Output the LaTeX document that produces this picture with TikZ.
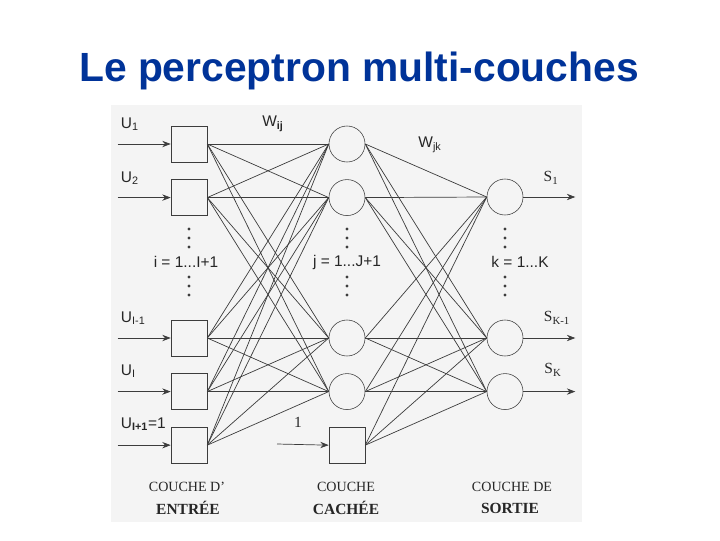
\documentclass[tikz,border=0pt]{standalone}
\usepackage{fontspec}
\setmainfont{Liberation Serif}
\setsansfont{Liberation Sans}
\usepackage{xcolor}
\usetikzlibrary{arrows.meta, positioning, calc}
\definecolor{titleblue}{RGB}{0,51,153}
\definecolor{panelgray}{RGB}{244,244,244}
\definecolor{linegray}{RGB}{60,60,60}

\begin{document}
\begin{tikzpicture}[x=0.025cm, y=-0.025cm, >={Stealth[length=6pt,width=4.5pt]}, every node/.style={font=\sffamily\fontsize{11}{13}\selectfont, text=black!85},
    unitbox/.style={rectangle, draw=linegray, fill=panelgray, minimum width=0.9cm, minimum height=0.9cm, inner sep=0pt},
    neuron/.style={circle, draw=linegray, fill=panelgray, minimum size=0.9cm, inner sep=0pt},
    link/.style={draw=linegray, line width=0.5pt},
    layername/.style={font=\rmfamily\fontsize{10}{12}\selectfont},
    layerbold/.style={font=\rmfamily\bfseries\fontsize{11}{13}\selectfont}]
    \useasboundingbox (0,0) rectangle (720,540);
    \fill[white] (0,0) rectangle (720,540);
    \fill[panelgray] (111,105) rectangle (582,522);

    % Title
    \node (title) at (359,71) [font=\sffamily\bfseries\fontsize{29}{34}\selectfont, text=titleblue] {Le perceptron multi-couches};

    % Input layer
    \node (in1) [unitbox] at (189,144) {};
    \node (in2) [unitbox, below=0.425cm of in1] {};
    \node (in3) [unitbox] at (189,338) {};
    \node (in4) [unitbox, below=0.425cm of in3] {};
    \node (in5) [unitbox, below=0.425cm of in4] {};

    % Hidden layer
    \node (hid1) [neuron] at (347,144) {};
    \node (hid2) [neuron, below=0.425cm of hid1] {};
    \node (hid3) [neuron] at (347,338) {};
    \node (hid4) [neuron, below=0.425cm of hid3] {};
    \node (hidb) [unitbox, below=0.425cm of hid4] {};

    % Output layer
    \node (out1) [neuron] at (505,197) {};
    \node (out2) [neuron] at (505,338) {};
    \node (out3) [neuron, below=0.425cm of out2] {};

    % Weights
    \foreach \i in {in1,in2,in3,in4,in5}
        \foreach \h in {hid1,hid2,hid3,hid4}
            \draw [link] (\i.east) -- (\h.west);
    \foreach \h in {hid1,hid2,hid3,hid4,hidb}
        \foreach \o in {out1,out2,out3}
            \draw [link] (\h.east) -- (\o.west);

    % Inputs and outputs
    \foreach \i in {1,...,5}
        \coordinate (u\i) at ($(in\i.west)+(-53,0)$);
    \coordinate (ub) at (277,444);
    \foreach \o in {1,2,3}
        \coordinate (s\o) at ($(out\o.east)+(52,0)$);
    \foreach \i in {1,...,5}
        \draw [link, ->] (u\i) -- (in\i.west);
    \draw [link, ->] (ub) -- (hidb.west);
    \foreach \o in {1,2,3}
        \draw [link, ->] (out\o.east) -- (s\o);

    % Dots
    \foreach \x in {189,347,505}
        \foreach \y in {229,238,247,277,286,295}
            \fill [linegray] (\x,\y) circle (1.1pt);

    % Labels
    \node (lu1) [anchor=west] at (116,124) {U\textsubscript{1}};
    \node (lu2) [anchor=west] at (116,178) {U\textsubscript{2}};
    \node (lu3) [anchor=west] at (116,318) {U\textsubscript{I-1}};
    \node (lu4) [anchor=west] at (116,371) {U\textsubscript{I}};
    \node (lu5) [anchor=west] at (116,424) {U\textsubscript{\textbf{I+1}}=1};
    \node (lb) [font=\rmfamily\fontsize{11}{13}\selectfont] at (298,422) {1};
    \node (wij) at (273,124) {W\textsubscript{\textbf{ij}}};
    \node (wjk) at (430,145) {W\textsubscript{jk}};
    \node (ls1) [font=\rmfamily\fontsize{11}{13}\selectfont] at (551,178) {S\textsubscript{1}};
    \node (ls2) [font=\rmfamily\fontsize{11}{13}\selectfont] at (557,318) {S\textsubscript{K-1}};
    \node (ls3) [font=\rmfamily\fontsize{11}{13}\selectfont] at (553,370) {S\textsubscript{K}};
    \node (ri) at (186,262) {i = 1...I+1};
    \node (rj) at (347,262) {j = 1...J+1};
    \node (rk) at (520,262) {k = 1...K};

    % Layer names
    \node (c1) [layername] at (187,487) {COUCHE D'};
    \node (n1) [layerbold] at (188,508) {ENTRÉE};
    \node (c2) [layername] at (346,487) {COUCHE};
    \node (n2) [layerbold] at (346,508) {CACHÉE};
    \node (c3) [layername] at (512,487) {COUCHE DE};
    \node (n3) [layerbold] at (510,508) {SORTIE};
\end{tikzpicture}
\end{document}
